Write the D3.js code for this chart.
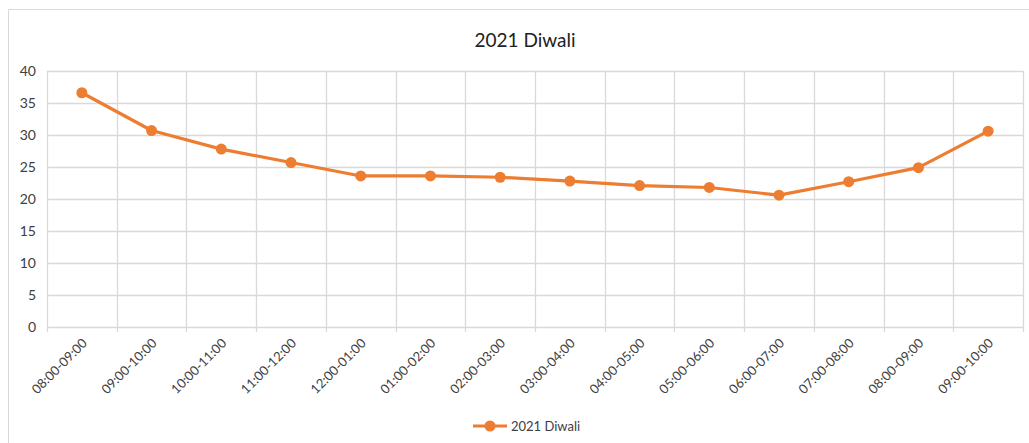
<!DOCTYPE html>
<html>
<head>
<meta charset="utf-8">
<script src="https://cdn.jsdelivr.net/npm/d3@7"></script>
<style>
  html, body { margin: 0; padding: 0; background: #fff; }
  svg { display: block; font-family: Lato, "Open Sans", sans-serif; }
</style>
</head>
<body>
<svg id="chart" width="1029" height="443"></svg>
<script>
// Hourly readings for the night of Diwali 2021
const categories = [
  "08:00-09:00", "09:00-10:00", "10:00-11:00", "11:00-12:00",
  "12:00-01:00", "01:00-02:00", "02:00-03:00", "03:00-04:00",
  "04:00-05:00", "05:00-06:00", "06:00-07:00", "07:00-08:00",
  "08:00-09:00", "09:00-10:00"
];
const seriesName = "2021 Diwali";
const values = [36.6, 30.7, 27.8, 25.7, 23.6, 23.6, 23.4, 22.8, 22.1, 21.8, 20.6, 22.7, 24.9, 30.6];
const yTicks = [0, 5, 10, 15, 20, 25, 30, 35, 40];

const svg = d3.select("#chart");
const plot = { left: 47, right: 1023, top: 71, bottom: 327 };
const orange = "#ED7D31";
const grid = "#d9d9d9";
const textColor = "#404040";

// Outer chart frame (top and left edges visible)
svg.append("path")
  .attr("d", "M8.5,443 L8.5,9.5 L1029,9.5")
  .attr("fill", "none")
  .attr("stroke", grid)
  .attr("stroke-width", 1);

// Title
svg.append("text")
  .attr("x", 525).attr("y", 47)
  .attr("text-anchor", "middle")
  .attr("font-size", 19)
  .attr("fill", "#222")
  .text(seriesName);

// Scales: band positions for categories, linear for values
const xBand = d3.scaleBand()
  .domain(d3.range(categories.length))
  .range([plot.left, plot.right])
  .padding(0);
const xCenter = i => xBand(i) + xBand.bandwidth() / 2;
const y = d3.scaleLinear().domain([0, 40]).range([plot.bottom, plot.top]);

// Horizontal gridlines
svg.append("g")
  .selectAll("line")
  .data(yTicks)
  .join("line")
  .attr("x1", plot.left).attr("x2", plot.right)
  .attr("y1", d => Math.round(y(d)) + 0.5)
  .attr("y2", d => Math.round(y(d)) + 0.5)
  .attr("stroke", grid)
  .attr("stroke-width", 1.3);

// Vertical gridlines at category boundaries
const bounds = d3.range(categories.length + 1).map(i =>
  i < categories.length ? xBand(i) : plot.right);
svg.append("g")
  .selectAll("line")
  .data(bounds)
  .join("line")
  .attr("x1", d => Math.round(d) + 0.5).attr("x2", d => Math.round(d) + 0.5)
  .attr("y1", plot.top).attr("y2", plot.bottom + 5)
  .attr("stroke", grid)
  .attr("stroke-width", 1.3);

// Y-axis labels
const yAxis = d3.axisLeft(y).tickValues(yTicks).tickSize(0).tickPadding(0);
const yg = svg.append("g")
  .attr("transform", `translate(${plot.left - 11},0)`)
  .call(yAxis);
yg.select(".domain").remove();
yg.selectAll("text")
  .attr("font-size", 14)
  .attr("font-family", "Lato, 'Open Sans', sans-serif")
  .attr("fill", textColor);

// X-axis labels, rotated
const xAxis = d3.axisBottom(xBand).tickFormat(i => categories[i]).tickSize(0).tickPadding(0);
const xg = svg.append("g")
  .attr("transform", `translate(0,${plot.bottom})`)
  .call(xAxis);
xg.select(".domain").remove();
xg.selectAll(".tick text")
  .attr("font-size", 13)
  .attr("font-family", "Lato, 'Open Sans', sans-serif")
  .attr("fill", textColor)
  .attr("text-anchor", "end")
  .attr("dy", null)
  .attr("y", 0)
  .attr("transform", "translate(6,17) rotate(-45)");

// Series line
const line = d3.line()
  .x((d, i) => xCenter(i))
  .y(d => y(d));
svg.append("path")
  .datum(values)
  .attr("d", line)
  .attr("fill", "none")
  .attr("stroke", orange)
  .attr("stroke-width", 3.2)
  .attr("stroke-linejoin", "round")
  .attr("stroke-linecap", "round");

// Markers
svg.append("g")
  .selectAll("circle")
  .data(values)
  .join("circle")
  .attr("cx", (d, i) => xCenter(i))
  .attr("cy", d => y(d))
  .attr("r", 5.5)
  .attr("fill", orange);

// Legend
const lg = svg.append("g").attr("transform", "translate(473,426)");
lg.append("line")
  .attr("x1", 0).attr("x2", 34).attr("y1", 0).attr("y2", 0)
  .attr("stroke", orange).attr("stroke-width", 3.2);
lg.append("circle").attr("cx", 17).attr("cy", 0).attr("r", 5.5).attr("fill", orange);
lg.append("text")
  .attr("x", 38).attr("y", 4.5)
  .attr("font-size", 13)
  .attr("fill", textColor)
  .text(seriesName);
</script>
</body>
</html>
